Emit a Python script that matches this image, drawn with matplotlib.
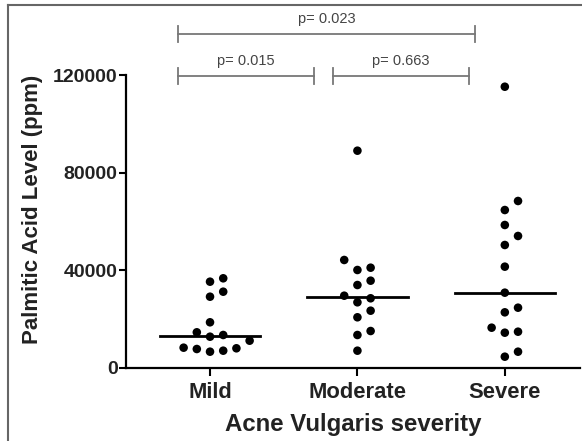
import numpy as np
import matplotlib
matplotlib.use("Agg")
import matplotlib.pyplot as plt
from matplotlib.lines import Line2D

plt.rcParams['font.family'] = ['Liberation Sans', 'DejaVu Sans']

# data (ppm)
groups = ["Mild", "Moderate", "Severe"]
mild = [6680, 7090, 7780, 8070, 8320, 11180, 12820, 13520, 14620, 18720,
        29200, 31250, 35350, 36740]
moderate = [7090, 13520, 15150, 20770, 23470, 26910, 28550, 29610, 33990,
            35760, 40140, 41080, 44240, 89000]
severe = [4630, 6680, 14460, 14870, 16510, 22800, 24700, 30850, 41500, 50380,
          54070, 58570, 64700, 68400, 115200]
comparisons = [(0, 1, "p= 0.015"), (1, 2, "p= 0.663"), (0, 2, "p= 0.023")]

yticks = [0, 40000, 80000, 120000]

W, H = 582, 441
fig = plt.figure(figsize=(W / 100, H / 100), dpi=100)
ax = fig.add_axes([126 / W, 1 - 368 / H, (580 - 126) / W, (368 - 75) / H])
ax.set_xlim(-0.57, 2.51)
ax.set_ylim(0, 120000)

# pixel scale so the swarm spacing is done on screen
px_per_x = (580 - 126) / (2.51 + 0.57)
px_per_y = (368 - 75) / 120000.0


def swarm(vals, step=13.2, dmin=12.0):
    placed = []
    offs = []
    for v in sorted(vals):
        yp = v * px_per_y
        cands = [0]
        for i in range(1, 8):
            cands += [i, -i]
        for c in cands:
            xp = c * step
            if all(np.hypot(xp - a, yp - b) >= dmin for a, b in placed):
                break
        placed.append((xp, yp))
        offs.append(xp / px_per_x)
    return sorted(vals), offs


for i, vals in enumerate([mild, moderate, severe]):
    ys, offs = swarm(vals)
    ax.scatter(i + np.array(offs), ys, s=38, color='black', zorder=3,
               edgecolors='none')
    ax.plot([i - 0.34, i + 0.34], [np.median(vals)] * 2, color='black',
            lw=2.0, zorder=2)

ax.set_xticks(range(3))
ax.set_xticklabels(groups, fontsize=15.8, fontweight='bold', color='#222222')
ax.set_yticks(yticks)
ax.set_yticklabels([str(t) for t in yticks], fontsize=14, fontweight='bold',
                   color='#222222')
ax.tick_params(axis='x', length=6, width=1.5, pad=4)
ax.tick_params(axis='y', length=5, width=1.5, pad=1)
for s in ['top', 'right']:
    ax.spines[s].set_visible(False)
for s in ['left', 'bottom']:
    ax.spines[s].set_linewidth(1.6)
ax.set_xlabel("Acne Vulgaris severity", fontsize=17.3, fontweight='bold',
              color='#222222', labelpad=7)
ax.set_ylabel("Palmitic Acid Level (ppm)", fontsize=16, fontweight='bold',
              color='#222222')
ax.yaxis.set_label_coords(-0.183, 0.543)

# significance brackets above the axes
gray = '#777777'
bracket_y = {(0, 1): 119600, (1, 2): 119600, (0, 2): 136800}
ends = {(0, 1): (-0.219, 0.708), (1, 2): (0.832, 1.758), (0, 2): (-0.219, 1.797)}
cap = 3200
for a, b, label in comparisons:
    y = bracket_y[(a, b)]
    x0, x1 = ends[(a, b)]
    ax.plot([x0, x1], [y, y], color=gray, lw=1.3, clip_on=False)
    for xx in (x0, x1):
        ax.plot([xx, xx], [y - cap, y + cap], color=gray, lw=1.3, clip_on=False)
    ax.text((x0 + x1) / 2, y + 6200, label, ha='center', va='center',
            fontsize=10.5, color='#444444', clip_on=False)

# partial frame of the original figure
fig.add_artist(Line2D([8 / W, 8 / W], [0, 1 - 5 / H], color='#666666', lw=1.5))
fig.add_artist(Line2D([8 / W, 1], [1 - 5 / H, 1 - 5 / H], color='#666666', lw=1.5))

fig.savefig("out.png", dpi=100)
